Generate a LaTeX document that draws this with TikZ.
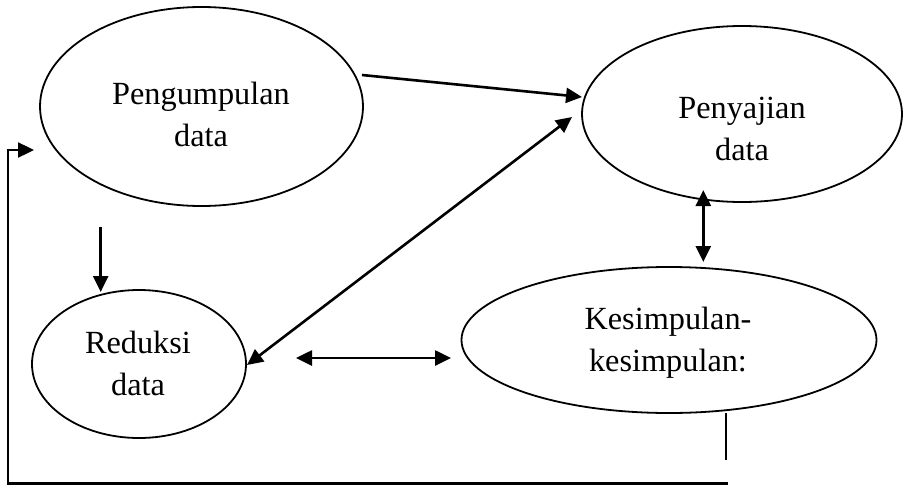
\documentclass[tikz,border=0pt]{standalone}
\usepackage{fontspec}
\setmainfont{Liberation Serif}
\usetikzlibrary{shapes.geometric,arrows.meta}
\begin{document}
\begin{tikzpicture}[x=1pt,y=-1pt,
  ell/.style={draw, ellipse, line width=1.8pt, inner sep=0pt},
  lbl/.style={align=center, font=\fontsize{32.3}{42}\selectfont, inner sep=0pt},
  tip/.tip={Triangle[length=16pt,width=15pt]},
  arr/.style={line width=2.6pt, -tip},
  darr/.style={line width=2.6pt, tip-tip},
  loopline/.style={line width=2.4pt}]
\useasboundingbox (0,0) rectangle (903,485);
% ellipses
\node[ell, minimum width=323pt, minimum height=199pt] (e1) at (201.5,106.5) {};
\node[ell, minimum width=320pt, minimum height=176pt] (e2) at (742,114) {};
\node[ell, minimum width=214pt, minimum height=148pt] (e3) at (139,364) {};
\node[ell, minimum width=415pt, minimum height=146pt] (e4) at (669,340) {};
% labels
\node[lbl] (t1) at (201,114) {Pengumpulan\\data};
\node[lbl] (t2) at (742,129) {Penyajian\\data};
\node[lbl] (t3) at (138,363) {Reduksi\\data};
\node[lbl] (t4) at (668,342.5) {Kesimpulan-\\kesimpulan:};
% connector end points
\coordinate (a1s) at (362,75);
\coordinate (a1e) at (582,97);
\coordinate (a2s) at (247,365);
\coordinate (a2e) at (572,117);
\coordinate (a3s) at (100.7,227);
\coordinate (a3e) at (100.7,292);
\coordinate (a4s) at (296,358);
\coordinate (a4e) at (451,358);
\coordinate (a5s) at (703.3,190);
\coordinate (a5e) at (703.3,262);
\coordinate (k1) at (726,413);
\coordinate (k2) at (726,460);
\coordinate (b1) at (728,483.5);
\coordinate (b2) at (8,483.5);
\coordinate (b3) at (8,150);
\coordinate (b4) at (34,150);
% connectors
\draw[arr] (a1s) -- (a1e);
\draw[darr] (a2s) -- (a2e);
\draw[arr] (a3s) -- (a3e);
\draw[darr] (a4s) -- (a4e);
\draw[darr] (a5s) -- (a5e);
\draw[line width=1.4pt] (k1) -- (k2);
\draw[loopline, -tip] (b1) -- (b2) -- (b3) -- (b4);
\end{tikzpicture}
\end{document}
